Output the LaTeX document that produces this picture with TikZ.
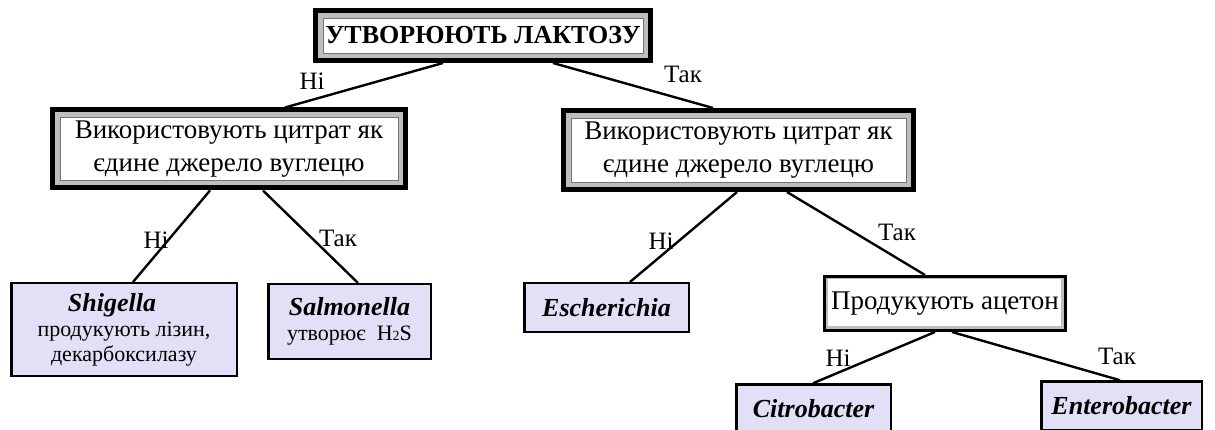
\documentclass[tikz,border=0pt]{standalone}
\usepackage{fontspec}
\setmainfont{Liberation Serif}
\usetikzlibrary{calc}
\definecolor{lav}{RGB}{226,224,246}
\definecolor{band}{RGB}{190,190,190}
\newcommand\genus[1]{{\fontsize{26}{28}\selectfont\bfseries\itshape #1}}
\begin{document}
\begin{tikzpicture}[x=1pt,y=-1pt,
  dbox/.style={draw=black, line width=5pt, fill=band, inner sep=0pt, align=center,
    path picture={\draw[fill=white, draw=black!55, line width=0.6pt]
      ([shift={(7.5pt,7.5pt)}]path picture bounding box.south west) rectangle
      ([shift={(-7.5pt,-7.5pt)}]path picture bounding box.north east);}},
  pbox/.style={draw=black, line width=3pt, fill=band, inner sep=0pt, align=center,
    path picture={\fill[white]
      ([shift={(3pt,4.5pt)}]path picture bounding box.south west) rectangle
      ([shift={(-4.5pt,-3pt)}]path picture bounding box.north east);}},
  leaf/.style={draw=black, line width=2.5pt, fill=lav, inner sep=0pt, align=center,
    font=\fontsize{22}{25}\selectfont},
  lbl/.style={font=\fontsize{25}{25}\selectfont, inner sep=0pt},
  conn/.style={line width=2.4pt}]
\useasboundingbox (0,0) rectangle (1215,430);
\clip (0,0) rectangle (1215,430);
\fill[white] (0,0) rectangle (1215,430);

\node[dbox, minimum width=335, minimum height=50, font=\fontsize{26}{30}\selectfont\bfseries] (top) at (483,35.5) {УТВОРЮЮТЬ ЛАКТОЗУ};
\node[dbox, minimum width=353, minimum height=78, font=\fontsize{27}{33}\selectfont] (L) at (229,149) {Використовують цитрат як\\єдине джерело вуглецю};
\node[dbox, minimum width=350, minimum height=79, font=\fontsize{27}{33}\selectfont] (R) at (738.5,150) {Використовують цитрат як\\єдине джерело вуглецю};
\node[pbox, minimum width=241, minimum height=54, font=\fontsize{27}{30}\selectfont] (P) at (945,303.5) {Продукують ацетон};

\node[leaf, minimum width=225.5, minimum height=92.5] (Sh) at (124,329.5) {\genus{Shigella}\hspace*{24pt}\\продукують лізин,\\декарбоксилазу};
\node[leaf, minimum width=162.5, minimum height=74.5] (Sa) at (349.5,321.5) {\genus{Salmonella}\\утворює\ \ H{\fontsize{14}{14}\selectfont 2}S};
\node[leaf, minimum width=164.5, minimum height=48.5] (Es) at (606.5,307.5) {\genus{Escherichia}};
\node[leaf, minimum width=154.5, minimum height=49] (Ci) at (813.5,409) {\genus{Citrobacter}};
\node[leaf, minimum width=160.5, minimum height=49] (En) at (1121.5,406) {\genus{Enterobacter}};

\draw[conn] ([xshift=-40]top.south) -- ([xshift=56]L.north);
\draw[conn] ([xshift=70]top.south) -- ([xshift=-25.5]R.north);
\draw[conn] ([xshift=-19]L.south) -- ([xshift=9]Sh.north);
\draw[conn] ([xshift=34]L.south) -- ([xshift=8.5]Sa.north);
\draw[conn] ([xshift=-1.5]R.south) -- ([xshift=23.5]Es.north);
\draw[conn] ([xshift=48.5]R.south) -- ([xshift=-20]P.north);
\draw[conn] ([xshift=-10]P.south) -- ([xshift=-0.5]Ci.north);
\draw[conn] ([xshift=7]P.south) -- ([xshift=-1.5]En.north);

\node[lbl] (l1) at (312,81) {Ні};
\node[lbl] (l2) at (683,74) {Так};
\node[lbl] (l3) at (156,240) {Ні};
\node[lbl] (l4) at (338,238) {Так};
\node[lbl] (l5) at (661,241) {Ні};
\node[lbl] (l6) at (897,232) {Так};
\node[lbl] (l7) at (838,358) {Ні};
\node[lbl] (l8) at (1117,356) {Так};
\end{tikzpicture}
\end{document}
